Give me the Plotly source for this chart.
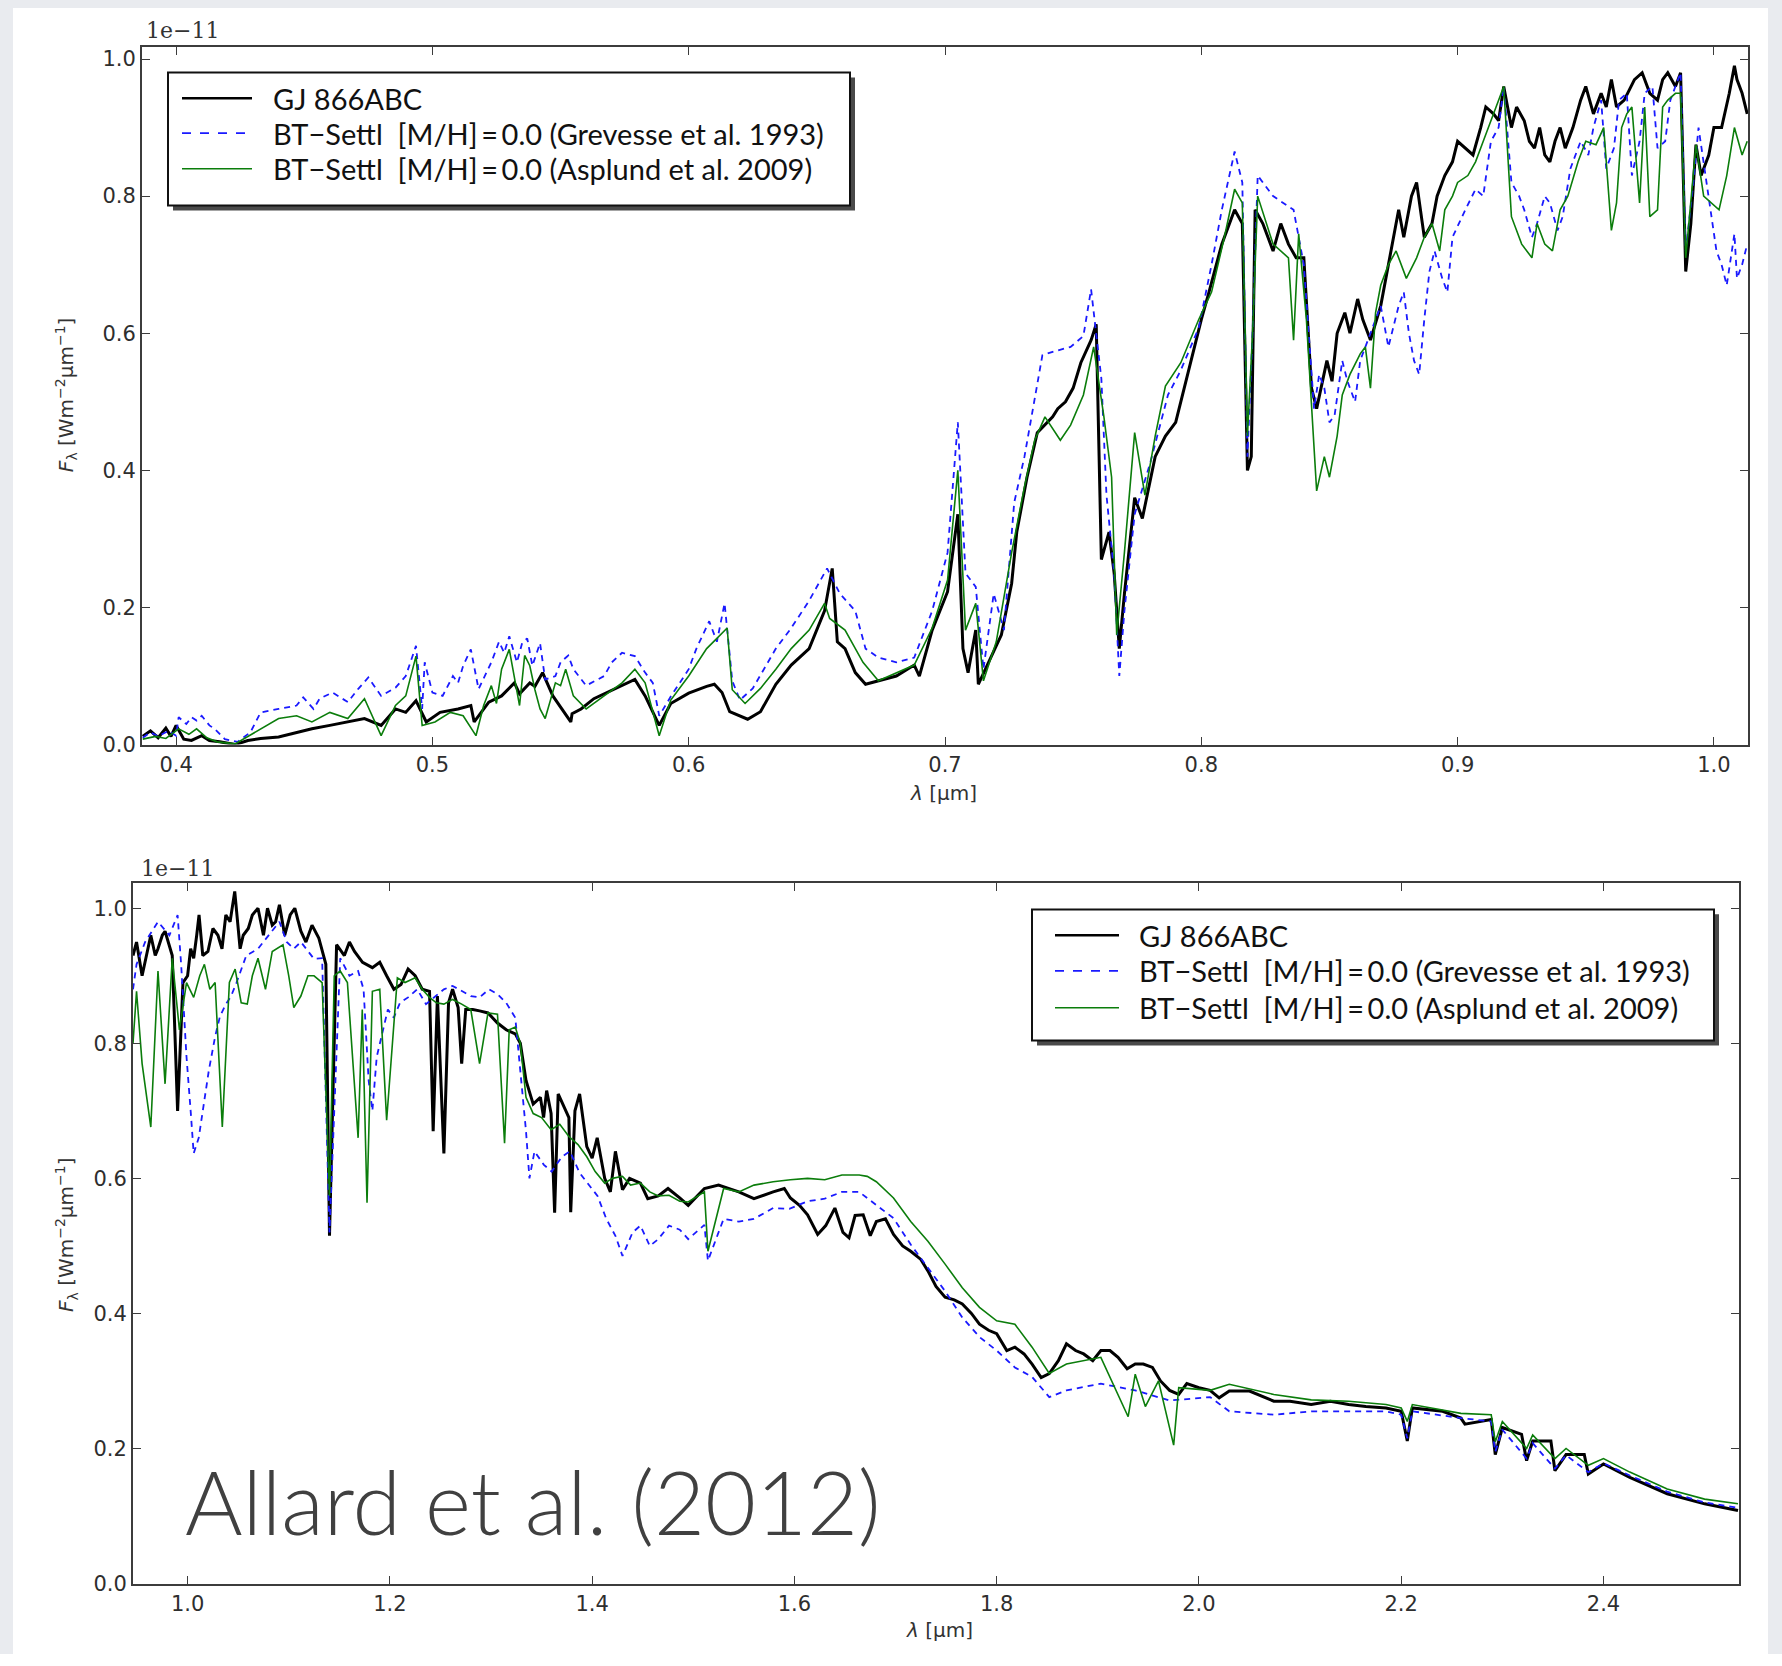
import plotly.graph_objects as go

# ---------------- DATA (flux in units of 1e-11 W m^-2 um^-1) ----------------
# Top panel: optical
vis_gj_wl = [0.387,0.390,0.393,0.396,0.398,0.400,0.403,0.406,0.410,0.413,0.417,0.423,0.428,0.433,0.440,0.447,0.453,0.460,0.467,0.4735,0.480,0.4856,0.4896,0.4936,0.4976,0.503,0.510,0.515,0.5163,0.522,0.527,0.534,0.538,0.543,0.547,0.554,0.558,0.563,0.571,0.576,0.579,0.583,0.5885,0.593,0.600,0.607,0.610,0.613,0.616,0.623,0.628,0.634,0.640,0.647,0.653,0.656,0.658,0.661,0.665,0.669,0.674,0.681,0.688,0.695,0.701,0.705,0.707,0.709,0.712,0.713,0.717,0.722,0.726,0.728,0.732,0.736,0.742,0.747,0.753,0.757,0.759,0.761,0.764,0.766,0.768,0.770,0.774,0.777,0.782,0.786,0.792,0.796,0.800,0.806,0.810,0.813,0.816,0.818,0.8195,0.821,0.824,0.828,0.834,0.840,0.843,0.845,0.849,0.853,0.856,0.863,0.870,0.874,0.877,0.880,0.884,0.887,0.892,0.898,0.903,0.909,0.914,0.918,0.921,0.926,0.930,0.934,0.938,0.942,0.948,0.953,0.956,0.962,0.969,0.975,0.980,0.985,0.987,0.989,0.991,0.993,0.998,1.003,1.006,1.008,1.011,1.013]
vis_gj_fx = [0.012,0.020,0.010,0.024,0.012,0.028,0.008,0.006,0.013,0.006,0.004,0.000,0.006,0.009,0.011,0.018,0.023,0.028,0.033,0.038,0.028,0.052,0.047,0.064,0.033,0.047,0.052,0.057,0.033,0.062,0.071,0.074,0.090,0.105,0.071,0.033,0.052,0.067,0.081,0.090,0.095,0.071,0.028,0.060,0.075,0.085,0.088,0.076,0.048,0.037,0.048,0.088,0.116,0.140,0.195,0.257,0.150,0.140,0.105,0.088,0.093,0.100,0.116,0.167,0.223,0.336,0.140,0.105,0.167,0.088,0.120,0.160,0.235,0.310,0.390,0.455,0.478,0.500,0.557,0.590,0.613,0.270,0.310,0.250,0.140,0.220,0.360,0.330,0.420,0.450,0.500,0.560,0.620,0.700,0.750,0.780,0.760,0.400,0.420,0.780,0.760,0.720,0.730,0.710,0.520,0.490,0.560,0.600,0.630,0.620,0.640,0.720,0.780,0.760,0.820,0.740,0.800,0.850,0.870,0.900,0.920,0.960,0.900,0.910,0.870,0.860,0.880,0.870,0.940,0.920,0.950,0.930,0.970,0.950,0.970,0.960,0.980,0.690,0.760,0.875,0.860,0.900,0.950,0.990,0.950,0.920]
# extra readings of the fine-scale structure (merged with the main readings)
vis_gj_wl_b = [0.532,0.540,0.5545,0.690,0.744,0.750,0.790,0.803,0.808,0.826,0.831,0.837,0.851,0.858,0.861,0.866,0.872,0.879,0.882,0.890,0.895,0.900,0.906,0.911,0.916,0.923,0.928,0.932,0.936,0.940,0.945,0.950,0.958,0.960,0.965,0.972,0.978,0.982,0.995,1.000,1.009]
vis_gj_fx_b = [0.090,0.085,0.045,0.100,0.490,0.520,0.470,0.660,0.730,0.740,0.760,0.710,0.530,0.600,0.650,0.590,0.680,0.740,0.800,0.760,0.830,0.880,0.860,0.930,0.910,0.930,0.880,0.900,0.850,0.900,0.900,0.960,0.930,0.970,0.940,0.980,0.940,0.980,0.830,0.900,0.970]

vis_grev_wl = [0.387,0.390,0.393,0.397,0.400,0.401,0.404,0.406,0.408,0.410,0.413,0.415,0.419,0.424,0.429,0.433,0.440,0.447,0.4496,0.4536,0.456,0.461,0.467,0.471,0.475,0.480,0.4856,0.4896,0.4936,0.496,0.500,0.504,0.508,0.512,0.515,0.518,0.523,0.528,0.530,0.535,0.539,0.542,0.544,0.550,0.555,0.560,0.567,0.574,0.579,0.583,0.5885,0.593,0.600,0.608,0.614,0.617,0.620,0.625,0.634,0.640,0.647,0.654,0.659,0.665,0.669,0.674,0.681,0.688,0.695,0.701,0.705,0.708,0.712,0.715,0.719,0.723,0.727,0.731,0.735,0.738,0.743,0.749,0.754,0.757,0.761,0.763,0.766,0.768,0.770,0.774,0.780,0.787,0.792,0.799,0.804,0.808,0.813,0.816,0.818,0.820,0.822,0.828,0.836,0.840,0.844,0.848,0.852,0.857,0.862,0.870,0.877,0.881,0.885,0.889,0.894,0.898,0.907,0.913,0.918,0.921,0.926,0.931,0.936,0.941,0.948,0.953,0.958,0.963,0.968,0.973,0.978,0.983,0.987,0.989,0.992,0.994,0.998,1.001,1.005,1.008,1.011,1.013]
vis_grev_fx = [0.010,0.018,0.012,0.020,0.013,0.040,0.030,0.040,0.035,0.042,0.028,0.023,0.008,0.004,0.018,0.047,0.052,0.057,0.069,0.052,0.067,0.076,0.062,0.081,0.098,0.071,0.083,0.100,0.144,0.052,0.076,0.071,0.100,0.115,0.139,0.081,0.120,0.134,0.158,0.148,0.115,0.148,0.095,0.120,0.110,0.086,0.100,0.134,0.129,0.105,0.042,0.070,0.110,0.180,0.206,0.093,0.065,0.082,0.140,0.170,0.210,0.257,0.220,0.195,0.140,0.127,0.120,0.127,0.195,0.280,0.470,0.250,0.230,0.110,0.220,0.167,0.353,0.420,0.506,0.568,0.574,0.580,0.596,0.664,0.534,0.364,0.250,0.100,0.195,0.336,0.410,0.510,0.546,0.608,0.700,0.780,0.865,0.820,0.420,0.600,0.830,0.800,0.780,0.700,0.490,0.520,0.480,0.530,0.560,0.640,0.640,0.600,0.540,0.690,0.680,0.740,0.810,0.880,0.960,0.820,0.780,0.760,0.790,0.770,0.880,0.900,0.840,0.940,0.830,0.950,0.870,0.940,0.980,0.720,0.820,0.900,0.800,0.720,0.670,0.745,0.700,0.730]
vis_grev_wl_b = [0.497,0.510,0.526,0.533,0.537,0.548,0.553,0.570,0.586,0.603,0.611,0.846,0.850,0.855,0.860,0.866,0.873,0.879,0.883,0.887,0.891,0.896,0.903,0.910,0.916,0.924,0.929,0.934,0.939,0.944,0.951,0.956,0.961,0.966,0.971,0.976,0.981,0.985,1.003,1.009]
vis_grev_fx_b = [0.120,0.090,0.150,0.120,0.155,0.100,0.130,0.120,0.090,0.140,0.150,0.540,0.470,0.560,0.500,0.600,0.580,0.660,0.560,0.620,0.720,0.660,0.780,0.800,0.900,0.800,0.740,0.800,0.750,0.840,0.860,0.940,0.870,0.950,0.880,0.960,0.880,0.960,0.700,0.680]

vis_asp_wl = [0.387,0.392,0.396,0.401,0.405,0.408,0.412,0.416,0.423,0.433,0.440,0.447,0.453,0.460,0.467,0.4735,0.480,0.4856,0.4896,0.4936,0.496,0.501,0.507,0.512,0.517,0.520,0.523,0.527,0.530,0.534,0.538,0.542,0.544,0.550,0.555,0.560,0.567,0.574,0.579,0.583,0.5885,0.593,0.600,0.607,0.611,0.615,0.617,0.622,0.628,0.634,0.640,0.647,0.653,0.655,0.661,0.668,0.674,0.681,0.688,0.695,0.701,0.705,0.708,0.712,0.715,0.720,0.726,0.731,0.735,0.739,0.745,0.749,0.754,0.758,0.762,0.765,0.767,0.770,0.774,0.778,0.782,0.786,0.792,0.799,0.804,0.809,0.813,0.816,0.818,0.820,0.822,0.828,0.834,0.836,0.838,0.841,0.845,0.850,0.855,0.862,0.866,0.870,0.876,0.884,0.890,0.895,0.900,0.907,0.913,0.918,0.921,0.925,0.929,0.934,0.940,0.947,0.954,0.960,0.964,0.968,0.971,0.975,0.982,0.987,0.989,0.993,1.002,1.008,1.011,1.013]
vis_asp_fx = [0.008,0.012,0.009,0.023,0.015,0.023,0.010,0.004,0.001,0.023,0.038,0.042,0.033,0.047,0.038,0.067,0.013,0.057,0.071,0.129,0.028,0.033,0.047,0.042,0.013,0.057,0.086,0.110,0.139,0.057,0.115,0.052,0.038,0.086,0.071,0.052,0.071,0.090,0.110,0.090,0.013,0.065,0.100,0.140,0.155,0.170,0.080,0.060,0.082,0.110,0.140,0.167,0.206,0.184,0.167,0.120,0.093,0.105,0.116,0.170,0.240,0.400,0.167,0.206,0.093,0.150,0.280,0.376,0.444,0.478,0.444,0.466,0.510,0.580,0.478,0.390,0.160,0.280,0.455,0.364,0.450,0.523,0.557,0.620,0.660,0.740,0.810,0.790,0.450,0.600,0.800,0.730,0.710,0.590,0.745,0.620,0.370,0.390,0.510,0.570,0.520,0.670,0.720,0.710,0.760,0.780,0.820,0.850,0.910,0.960,0.770,0.730,0.710,0.730,0.780,0.850,0.875,0.750,0.900,0.930,0.790,0.770,0.940,0.950,0.710,0.875,0.780,0.900,0.860,0.880]
vis_asp_wl_b = [0.525,0.532,0.536,0.540,0.548,0.552,0.848,0.853,0.858,0.864,0.868,0.873,0.880,0.887,0.893,0.898,0.904,0.910,0.915,0.923,0.927,0.931,0.937,0.943,0.950,0.957,0.962,0.966,0.973,0.978,0.980,0.985,0.996,1.005]
vis_asp_fx_b = [0.060,0.100,0.130,0.080,0.090,0.110,0.420,0.450,0.540,0.580,0.630,0.700,0.680,0.740,0.720,0.800,0.830,0.880,0.930,0.750,0.720,0.760,0.720,0.800,0.880,0.900,0.790,0.920,0.930,0.780,0.930,0.950,0.800,0.830]

# Bottom panel: near infrared
nir_gj_wl = [0.946,0.9495,0.9636,0.9707,0.9777,0.9848,0.9901,0.9954,1.006,1.0113,1.0201,1.030,1.0378,1.0466,1.0519,1.060,1.0696,1.0837,1.0908,1.1014,1.112,1.1297,1.1367,1.1403,1.1473,1.165,1.1827,1.1968,1.211,1.225,1.2392,1.2428,1.247,1.2534,1.258,1.2675,1.271,1.275,1.2887,1.3064,1.324,1.3346,1.3417,1.3488,1.3594,1.3629,1.3664,1.377,1.3788,1.3876,1.3947,1.4124,1.430,1.4477,1.4654,1.4866,1.511,1.545,1.579,1.596,1.613,1.623,1.640,1.654,1.668,1.681,1.698,1.715,1.732,1.749,1.766,1.783,1.800,1.818,1.835,1.852,1.869,1.886,1.903,1.920,1.937,1.954,1.971,1.988,2.011,2.030,2.074,2.111,2.148,2.185,2.200,2.206,2.211,2.241,2.259,2.263,2.289,2.293,2.300,2.319,2.324,2.330,2.348,2.352,2.363,2.381,2.385,2.400,2.426,2.463,2.500,2.533]
nir_gj_fx = [0.930,0.950,0.960,0.940,0.966,0.930,0.700,0.890,0.926,0.990,0.936,0.960,0.990,1.025,0.940,0.970,1.000,0.975,1.005,0.990,0.966,0.956,0.917,0.515,0.946,0.936,0.912,0.900,0.887,0.900,0.877,0.670,0.870,0.637,0.860,0.853,0.770,0.850,0.848,0.830,0.814,0.745,0.710,0.720,0.696,0.549,0.725,0.690,0.550,0.725,0.647,0.600,0.583,0.593,0.574,0.571,0.585,0.580,0.580,0.571,0.546,0.517,0.556,0.512,0.546,0.536,0.517,0.492,0.463,0.424,0.414,0.384,0.370,0.350,0.325,0.311,0.355,0.340,0.345,0.335,0.325,0.320,0.286,0.296,0.286,0.285,0.270,0.265,0.265,0.260,0.255,0.211,0.260,0.255,0.245,0.236,0.243,0.191,0.231,0.221,0.182,0.211,0.211,0.167,0.191,0.191,0.162,0.177,0.157,0.133,0.118,0.108]
nir_gj_wl_b = [0.955,0.968,0.975,1.000,1.003,1.009,1.015,1.025,1.034,1.042,1.055,1.064,1.075,1.079,1.087,1.096,1.106,1.117,1.123,1.155,1.160,1.173,1.190,1.204,1.218,1.232,1.262,1.282,1.297,1.315,1.329,1.352,1.355,1.383,1.400,1.405,1.418,1.423,1.437,1.455,1.475,1.495,1.525,1.560,1.590,1.605,1.631,1.648,1.660,1.675,1.690,1.707,1.725,1.740,1.758,1.775,1.792,1.810,1.827,1.844,1.861,1.878,1.895,1.912,1.929,1.945,1.962,1.980,2.000,2.020,2.050,2.090,2.130,2.165]
nir_gj_fx_b = [0.900,0.930,0.960,0.900,0.940,0.960,0.930,0.970,0.940,0.980,0.960,0.990,0.960,1.000,0.980,0.960,1.000,0.950,0.975,0.930,0.950,0.920,0.920,0.880,0.910,0.880,0.880,0.850,0.845,0.820,0.800,0.690,0.730,0.700,0.630,0.660,0.580,0.640,0.600,0.570,0.585,0.560,0.590,0.570,0.585,0.560,0.530,0.520,0.545,0.515,0.540,0.500,0.480,0.440,0.420,0.400,0.375,0.345,0.340,0.305,0.330,0.345,0.330,0.345,0.318,0.325,0.300,0.280,0.290,0.275,0.285,0.270,0.270,0.262]

nir_grev_wl = [0.946,0.9495,0.9707,0.9901,0.9936,0.9989,1.006,1.0166,1.0272,1.0378,1.0484,1.0696,1.0908,1.105,1.119,1.133,1.1403,1.1509,1.1686,1.179,1.1827,1.1933,1.2039,1.218,1.2357,1.2534,1.271,1.2887,1.3064,1.324,1.3346,1.338,1.3523,1.370,1.3876,1.4053,1.423,1.430,1.4477,1.4654,1.4866,1.511,1.5145,1.545,1.579,1.613,1.647,1.664,1.681,1.698,1.715,1.732,1.749,1.766,1.783,1.800,1.818,1.835,1.852,1.869,1.903,1.937,1.971,2.011,2.030,2.074,2.111,2.148,2.185,2.200,2.206,2.211,2.259,2.289,2.293,2.300,2.324,2.330,2.352,2.363,2.385,2.400,2.426,2.463,2.500,2.533]
nir_grev_fx = [0.880,0.917,0.980,0.990,0.917,0.780,0.637,0.720,0.810,0.858,0.890,0.940,0.980,0.940,0.936,0.926,0.520,0.926,0.907,0.745,0.700,0.820,0.838,0.868,0.858,0.880,0.877,0.868,0.873,0.838,0.670,0.600,0.620,0.632,0.608,0.574,0.515,0.485,0.530,0.510,0.524,0.531,0.478,0.536,0.556,0.566,0.580,0.580,0.561,0.541,0.502,0.468,0.433,0.394,0.365,0.345,0.320,0.306,0.276,0.286,0.296,0.286,0.271,0.276,0.255,0.250,0.255,0.255,0.255,0.250,0.215,0.255,0.245,0.240,0.195,0.228,0.185,0.208,0.170,0.190,0.165,0.178,0.160,0.136,0.120,0.112]
nir_grev_wl_b = [0.958,0.982,1.003,1.011,1.021,1.032,1.043,1.058,1.080,1.098,1.112,1.125,1.160,1.174,1.187,1.198,1.210,1.227,1.245,1.262,1.280,1.298,1.315,1.343,1.360,1.378,1.397,1.414,1.440,1.457,1.476,1.495,1.530,1.560,1.595,1.630]
nir_grev_fx_b = [0.950,0.960,0.700,0.660,0.760,0.840,0.870,0.930,0.960,0.950,0.950,0.925,0.900,0.880,0.780,0.850,0.860,0.880,0.870,0.885,0.870,0.880,0.860,0.640,0.610,0.640,0.590,0.540,0.520,0.500,0.530,0.510,0.540,0.540,0.555,0.570]

nir_asp_wl = [0.946,0.9495,0.955,0.9636,0.9707,0.9777,0.9848,0.9919,0.9989,1.006,1.0166,1.0272,1.0343,1.0413,1.059,1.0696,1.0837,1.0943,1.105,1.119,1.133,1.1403,1.1509,1.1686,1.1727,1.1774,1.1827,1.1968,1.2074,1.225,1.2392,1.2534,1.271,1.2887,1.3064,1.3134,1.324,1.3346,1.3417,1.3594,1.377,1.3947,1.4124,1.430,1.4477,1.4654,1.4866,1.511,1.5145,1.545,1.579,1.613,1.647,1.664,1.681,1.698,1.715,1.732,1.749,1.766,1.783,1.800,1.818,1.835,1.852,1.869,1.903,1.930,1.937,1.947,1.960,1.975,1.980,2.011,2.030,2.074,2.111,2.148,2.185,2.200,2.206,2.211,2.259,2.289,2.293,2.300,2.324,2.330,2.352,2.363,2.385,2.400,2.426,2.463,2.500,2.533]
nir_asp_fx = [0.800,0.877,0.770,0.676,0.907,0.740,0.926,0.820,0.890,0.868,0.917,0.890,0.676,0.890,0.858,0.926,0.936,0.946,0.853,0.900,0.890,0.574,0.907,0.660,0.850,0.564,0.877,0.686,0.897,0.897,0.868,0.858,0.858,0.770,0.843,0.652,0.824,0.720,0.696,0.672,0.662,0.632,0.593,0.603,0.593,0.574,0.566,0.580,0.492,0.580,0.595,0.600,0.605,0.605,0.595,0.571,0.536,0.507,0.473,0.438,0.409,0.389,0.384,0.350,0.311,0.325,0.335,0.247,0.310,0.262,0.300,0.205,0.290,0.286,0.295,0.280,0.272,0.270,0.265,0.260,0.240,0.265,0.252,0.250,0.210,0.240,0.200,0.220,0.185,0.200,0.175,0.185,0.165,0.140,0.125,0.118]
nir_asp_wl_b = [1.012,1.022,1.047,1.053,1.064,1.077,1.088,1.100,1.112,1.125,1.145,1.158,1.190,1.215,1.232,1.246,1.262,1.280,1.297,1.318,1.329,1.350,1.368,1.386,1.403,1.420,1.438,1.457,1.476,1.495,1.530,1.560,1.596,1.630,1.672]
nir_asp_fx_b = [0.900,0.880,0.910,0.860,0.900,0.880,0.940,0.900,0.870,0.900,0.900,0.890,0.880,0.890,0.880,0.860,0.865,0.850,0.845,0.820,0.800,0.690,0.680,0.650,0.610,0.600,0.590,0.580,0.575,0.565,0.585,0.590,0.598,0.598,0.603]

series_names = ["GJ 866ABC",
                "BT\u2212Settl\u00a0\u00a0[M/H]\u2009=\u20090.0 (Grevesse et al. 1993)",
                "BT\u2212Settl\u00a0\u00a0[M/H]\u2009=\u20090.0 (Asplund et al. 2009)"]
vis_ticks = [0.4, 0.5, 0.6, 0.7, 0.8, 0.9, 1.0]
nir_ticks = [1.0, 1.2, 1.4, 1.6, 1.8, 2.0, 2.2, 2.4]
flux_ticks = [0.0, 0.2, 0.4, 0.6, 0.8, 1.0]


def merged(wl_a, fx_a, wl_b, fx_b):
    pairs = sorted(zip(list(wl_a) + list(wl_b), list(fx_a) + list(fx_b)))
    return [p[0] for p in pairs], [p[1] for p in pairs]

# ---------------- FIGURE ----------------
W, H = 1782, 1666
def px(x): return x / W
def py(y): return 1 - y / H

C_GJ, C_GREV, C_ASP = "#000000", "#1a1aff", "#0b7d0b"
styles = [dict(color=C_GJ, width=3.0),
          dict(color=C_GREV, width=1.8, dash="6px,5px"),
          dict(color=C_ASP, width=1.6)]

fig = go.Figure()
vis_sets = [merged(vis_gj_wl, vis_gj_fx, vis_gj_wl_b, vis_gj_fx_b),
            merged(vis_grev_wl, vis_grev_fx, vis_grev_wl_b, vis_grev_fx_b),
            merged(vis_asp_wl, vis_asp_fx, vis_asp_wl_b, vis_asp_fx_b)]
nir_sets = [merged(nir_gj_wl, nir_gj_fx, nir_gj_wl_b, nir_gj_fx_b),
            merged(nir_grev_wl, nir_grev_fx, nir_grev_wl_b, nir_grev_fx_b),
            merged(nir_asp_wl, nir_asp_fx, nir_asp_wl_b, nir_asp_fx_b)]
for (wl, fx), st, nm in zip(vis_sets, styles, series_names):
    fig.add_trace(go.Scatter(x=wl, y=fx, mode="lines", line=st, name=nm, showlegend=False, xaxis="x", yaxis="y"))
for (wl, fx), st, nm in zip(nir_sets, styles, series_names):
    fig.add_trace(go.Scatter(x=wl, y=fx, mode="lines", line=st, name=nm, showlegend=False, xaxis="x2", yaxis="y2"))

ax_common = dict(showgrid=False, zeroline=False, showline=True, linecolor="#3c3c3c", linewidth=2,
                 mirror="ticks", ticks="inside", ticklen=8, tickwidth=1.2, tickcolor="#3c3c3c",
                 tickfont=dict(family="DejaVu Sans", size=21, color="#2e2e2e"))
fig.update_layout(
    width=W, height=H, margin=dict(l=0, r=0, t=0, b=0),
    paper_bgcolor="white", plot_bgcolor="white", showlegend=False,
    xaxis=dict(domain=[px(142), px(1748)], range=[0.3867, 1.0133], anchor="y",
               tickvals=vis_ticks, ticktext=[f"{v:.1f}" for v in vis_ticks], **ax_common),
    yaxis=dict(domain=[py(750), py(47)], range=[0, 1.018], anchor="x",
               tickvals=flux_ticks, ticktext=[f"{v:.1f}" for v in flux_ticks], **ax_common),
    xaxis2=dict(domain=[px(133), px(1739)], range=[0.946, 2.534], anchor="y2",
                tickvals=nir_ticks, ticktext=[f"{v:.1f}" for v in nir_ticks], **ax_common),
    yaxis2=dict(domain=[py(1595), py(889)], range=[0, 1.038], anchor="x2",
                tickvals=flux_ticks, ticktext=[f"{v:.1f}" for v in flux_ticks], **ax_common),
)

# light grey page border (left, top, right)
BORDER = "#e9ebef"
shapes = [dict(type="rect", xref="paper", yref="paper", x0=0, x1=px(13), y0=0, y1=1,
               fillcolor=BORDER, line=dict(width=0), layer="below"),
          dict(type="rect", xref="paper", yref="paper", x0=0, x1=1, y0=py(8), y1=1,
               fillcolor=BORDER, line=dict(width=0), layer="below"),
          dict(type="rect", xref="paper", yref="paper", x0=px(1768), x1=1, y0=0, y1=1,
               fillcolor=BORDER, line=dict(width=0), layer="below")]
annotations = []

def add_legend(x0, y0, x1, y1, rows, sx0, sx1, tx):
    shapes.append(dict(type="rect", xref="paper", yref="paper", x0=px(x0 + 5), x1=px(x1 + 5),
                       y0=py(y1 + 5), y1=py(y0 + 5), fillcolor="#4a4a4a", line=dict(width=0), layer="above"))
    shapes.append(dict(type="rect", xref="paper", yref="paper", x0=px(x0), x1=px(x1),
                       y0=py(y1), y1=py(y0), fillcolor="white", line=dict(color="#111111", width=2), layer="above"))
    for ry, st, nm in zip(rows, styles, series_names):
        ln = dict(color=st["color"], width=min(st["width"], 2.6))
        if "dash" in st:
            ln["dash"] = "dash"
        shapes.append(dict(type="line", xref="paper", yref="paper", x0=px(sx0), x1=px(sx1),
                           y0=py(ry), y1=py(ry), line=ln, layer="above"))
        annotations.append(dict(xref="paper", yref="paper", x=px(tx), y=py(ry), text=nm, showarrow=False,
                                xanchor="left", yanchor="middle",
                                font=dict(family="Lato", size=29, color="#111111")))

add_legend(168, 73, 850, 207, [99, 134, 170], 182, 252, 271)
add_legend(1032, 916, 1714, 1048, [942, 978, 1015], 1055, 1119, 1137)

# offset texts
for (xx, yy) in [(182, 31), (177, 875)]:
    annotations.append(dict(xref="paper", yref="paper", x=px(xx), y=py(yy), text="1e\u221211", showarrow=False,
                            xanchor="center", yanchor="middle",
                            font=dict(family="DejaVu Serif", size=22, color="#333333")))
# axis titles
ytitle = "<i>F</i><sub>\u03bb</sub> [Wm<sup>\u22122</sup>\u03bcm<sup>\u22121</sup>]"
for yy in [398, 1244]:
    annotations.append(dict(xref="paper", yref="paper", x=px(66), y=py(yy), text=ytitle, showarrow=False,
                            textangle=-90, xanchor="center", yanchor="middle",
                            font=dict(family="DejaVu Sans", size=20, color="#333333")))
for (xx, yy) in [(943, 799), (939, 1642)]:
    annotations.append(dict(xref="paper", yref="paper", x=px(xx), y=py(yy), text="<i>\u03bb</i> [\u03bcm]",
                            showarrow=False, xanchor="center", yanchor="middle",
                            font=dict(family="DejaVu Sans", size=20, color="#333333")))
# big citation
annotations.append(dict(xref="paper", yref="paper", x=px(183), y=py(1512), text="Allard et al. (2012)",
                        showarrow=False, xanchor="left", yanchor="middle",
                        font=dict(family="Lato", size=88, color="#404040", weight=300)))

fig.update_layout(shapes=shapes, annotations=annotations)
fig.write_html("out.html")
